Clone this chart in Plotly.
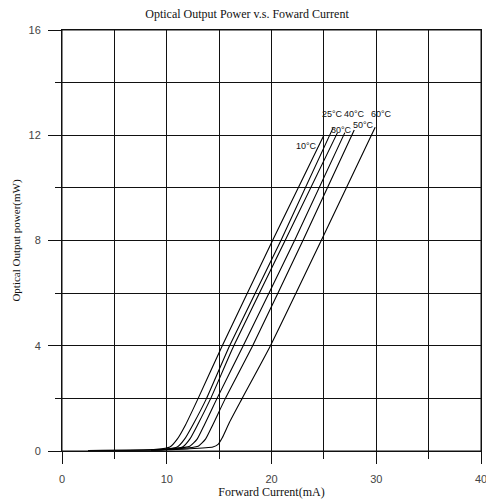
import plotly.graph_objects as go

# Temperature series labels
temps = ["10°C", "25°C", "30°C", "40°C", "50°C", "60°C"]

# Forward current (mA) / optical output power (mW)
i_10 = [2.5, 9.0, 10.3, 11.0, 11.8, 13.0, 15.3, 20.1, 25.0]
p_10 = [0.02, 0.06, 0.15, 0.45, 1.0, 2.0, 4.0, 8.0, 12.0]

i_25 = [2.5, 9.5, 11.0, 11.7, 12.5, 13.8, 16.0, 20.9, 25.9]
p_25 = [0.02, 0.05, 0.15, 0.45, 1.0, 2.0, 4.0, 8.0, 12.3]

i_30 = [8.5, 10.0, 11.5, 12.2, 12.95, 14.2, 16.4, 21.3, 26.3]
p_30 = [0.03, 0.07, 0.15, 0.45, 1.0, 2.0, 4.0, 8.0, 12.1]

i_40 = [8.5, 10.5, 12.2, 12.9, 13.6, 14.8, 17.3, 22.2, 27.0]
p_40 = [0.03, 0.08, 0.18, 0.45, 1.0, 2.0, 4.0, 8.0, 12.1]

i_50 = [8.5, 11.0, 13.0, 13.7, 14.4, 15.6, 18.2, 23.0, 27.9]
p_50 = [0.03, 0.08, 0.18, 0.45, 1.0, 2.0, 4.0, 8.0, 12.2]

i_60 = [8.5, 12.0, 14.4, 14.9, 15.3, 16.0, 17.2, 19.9, 24.75, 29.9]
p_60 = [0.03, 0.08, 0.15, 0.25, 0.5, 1.1, 2.0, 4.0, 8.0, 12.3]

currents = [i_10, i_25, i_30, i_40, i_50, i_60]
powers = [p_10, p_25, p_30, p_40, p_50, p_60]

# Label anchor positions (data coordinates) for the temperature tags
label_x = [23.3, 25.8, 26.7, 27.95, 28.8, 30.5]
label_y = [11.6, 12.8, 12.2, 12.8, 12.4, 12.8]

x_ticks = [0, 10, 20, 30, 40]
y_ticks = [0, 4, 8, 12, 16]

fig = go.Figure()
for t, xs, ys in zip(temps, currents, powers):
    fig.add_trace(go.Scatter(x=xs, y=ys, mode="lines", name=t,
                             line=dict(color="black", width=1.1,
                                       shape="spline", smoothing=0.5),
                             showlegend=False, hoverinfo="skip"))

for t, lx, ly in zip(temps, label_x, label_y):
    fig.add_annotation(x=lx, y=ly, text=t, showarrow=False,
                       font=dict(family="Liberation Sans", size=9, color="#111"))

grid_c = "#111"
# frame around the plotting area
fig.add_shape(type="rect", xref="x domain", yref="y domain",
              x0=0, x1=1, y0=0, y1=1, line=dict(color=grid_c, width=1),
              layer="above")

fig.update_layout(
    width=486, height=499,
    margin=dict(l=62, r=5, t=30, b=48, autoexpand=False),
    paper_bgcolor="white", plot_bgcolor="white",
    title=dict(text="Optical Output Power v.s. Foward Current",
               x=247 / 486, xref="container", xanchor="center",
               y=1 - 14 / 499, yref="container", yanchor="middle",
               automargin=False,
               font=dict(family="Liberation Serif", size=12, color="#111")),
    font=dict(family="Liberation Sans", size=11, color="#333"),
)
fig.update_xaxes(
    range=[0, 40], tickvals=x_ticks, ticks="outside", ticklen=12,
    tickcolor=grid_c, tickwidth=1, automargin=False, ticklabelstandoff=6,
    ticklabeloverflow="allow",
    showgrid=True, gridcolor=grid_c, gridwidth=1,
    minor=dict(dtick=5, tick0=0, ticks="outside", ticklen=7, tickcolor=grid_c,
               showgrid=True, gridcolor=grid_c, gridwidth=1),
    showline=True, linecolor=grid_c, linewidth=1, mirror=True,
    zeroline=False,
    tickfont=dict(family="Liberation Sans", size=11, color="#444"),
    title=dict(text="Forward Current(mA)", standoff=2,
               font=dict(family="Liberation Serif", size=12, color="#111")),
)
fig.update_yaxes(
    range=[0, 16], tickvals=y_ticks, ticks="outside", ticklen=13,
    tickcolor=grid_c, tickwidth=1, automargin=False, ticklabelstandoff=5,
    ticklabeloverflow="allow",
    showgrid=True, gridcolor=grid_c, gridwidth=1,
    minor=dict(dtick=2, tick0=0, ticks="outside", ticklen=6, tickcolor=grid_c,
               showgrid=True, gridcolor=grid_c, gridwidth=1),
    showline=True, linecolor=grid_c, linewidth=1, mirror=True,
    zeroline=False,
    tickfont=dict(family="Liberation Sans", size=11, color="#444"),
    title=dict(text="Optical Output power(mW)", standoff=5,
               font=dict(family="Liberation Serif", size=11, color="#111")),
)

fig.write_html(
    "out.html",
    config={"displayModeBar": False},
    post_script=(
        "document.body.style.margin='0';"
        "document.body.style.overflow='hidden';"
        "document.documentElement.style.overflow='hidden';"
    ),
)
